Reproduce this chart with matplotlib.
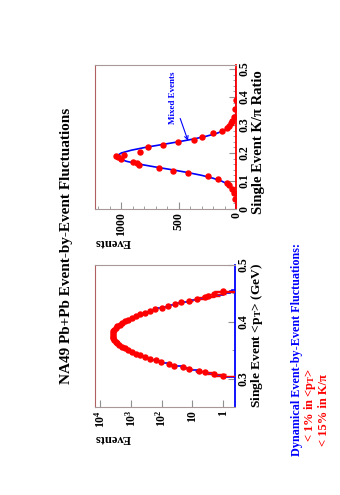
import numpy as np
import matplotlib
matplotlib.use('Agg')
import matplotlib.pyplot as plt
from matplotlib.ticker import FixedLocator, LogLocator, NullFormatter, MultipleLocator

# ---------------- data ----------------
pt_centers = [0.305, 0.308, 0.311, 0.314, 0.317, 0.320, 0.323, 0.326, 0.329, 0.332,
              0.335, 0.338, 0.341, 0.344, 0.347, 0.350, 0.353, 0.356, 0.359, 0.362,
              0.365, 0.368, 0.371, 0.374, 0.377, 0.380, 0.383, 0.386, 0.389, 0.392,
              0.395, 0.398, 0.401, 0.404, 0.407, 0.410, 0.413, 0.416, 0.419, 0.422,
              0.425, 0.428, 0.431, 0.434, 0.437, 0.440, 0.443, 0.446, 0.449, 0.452,
              0.455]
pt_events = [1, 2, 4, 6, 13, 21, 40, 60, 104, 155,
             245, 350, 510, 700, 955, 1245, 1600, 1975, 2390, 2790,
             3180, 3510, 3780, 3940, 4000, 3940, 3775, 3515, 3180, 2795,
             2385, 1980, 1595, 1250, 950, 705, 505, 355, 238, 160,
             100, 64, 37, 23, 13, 7, 4, 3, 2, 1,
             1]
pt_mixed = [1.0, 2.0, 3.8, 7.1, 12.8, 22.4, 38, 63, 101, 158,
            240, 353, 506, 704, 952, 1250, 1596, 1979, 2385, 2794,
            3179, 3515, 3777, 3943, 4000, 3943, 3777, 3515, 3179, 2794,
            2385, 1979, 1596, 1250, 952, 704, 506, 353, 240, 158,
            101, 63, 38, 22.4, 12.8, 7.1, 3.8, 2.0, 1.0, 0.6,
            0.5]

kpi_ratio = [0.035, 0.056, 0.070, 0.086, 0.094, 0.106, 0.117, 0.127, 0.136, 0.146,
             0.157, 0.165, 0.168, 0.177, 0.187, 0.189, 0.194, 0.205, 0.220, 0.228,
             0.238, 0.246, 0.258, 0.270, 0.279, 0.288, 0.297, 0.306, 0.315, 0.329,
             0.356, 0.389]
kpi_events = [5, 17, 38, 61, 81, 160, 247, 416, 547, 672,
              843, 866, 896, 1006, 1027, 1049, 974, 837, 765, 634,
              503, 364, 299, 203, 125, 81, 61, 44, 32, 17,
              9, 3]
kpi_mixed_ratio = [0.00, 0.01, 0.02, 0.03, 0.04, 0.05, 0.06, 0.07, 0.08, 0.09,
                   0.10, 0.11, 0.12, 0.13, 0.14, 0.15, 0.16, 0.17, 0.18, 0.19,
                   0.20, 0.21, 0.22, 0.23, 0.24, 0.25, 0.26, 0.27, 0.28, 0.29,
                   0.30, 0.31, 0.32, 0.33, 0.34, 0.35, 0.36, 0.37, 0.40, 0.45, 0.50]
kpi_mixed_events = [0.1, 0.2, 0.5, 1.2, 2.8, 6.0, 12.4, 24, 44, 77,
                    128, 201, 298, 419, 557, 704, 842, 953, 1022, 1039,
                    1000, 912, 790, 645, 501, 368, 257, 169, 105, 62,
                    35, 19, 9.4, 4.5, 2.0, 0.9, 0.3, 0.1, 0, 0, 0]

pt_ticks = [0.3, 0.4, 0.5]
pt_event_ticks = [1, 10, 100, 1000, 10000]
pt_event_ticklabels = ['1', '10', r'$\mathregular{10^{2}}$', r'$\mathregular{10^{3}}$',
                       r'$\mathregular{10^{4}}$']
kpi_ticks = [0, 0.1, 0.2, 0.3, 0.4, 0.5]
kpi_event_ticks = [0, 500, 1000]

title = 'NA49 Pb+Pb Event-by-Event Fluctuations'
summary = 'Dynamical Event-by-Event Fluctuations:'
result_pt = r'< 1% in <p$_{\mathregular{T}}$>'
result_kpi = '< 15% in K/\u03c0'

# ---------------- style ----------------
plt.rcParams['font.family'] = ['Liberation Serif', 'DejaVu Serif']
plt.rcParams['font.weight'] = 'bold'
plt.rcParams['mathtext.fontset'] = 'custom'
plt.rcParams['mathtext.rm'] = 'Liberation Serif:bold'
plt.rcParams['mathtext.it'] = 'Liberation Serif:italic:bold'
plt.rcParams['mathtext.bf'] = 'Liberation Serif:bold'

W, H = 340, 495
fig = plt.figure(figsize=(W / 100, H / 100), dpi=100)

def px_axes(x0, y0, x1, y1):
    return fig.add_axes([x0 / W, 1 - y1 / H, (x1 - x0) / W, (y1 - y0) / H])

frame_col = '#b06060'
edge_col = '#a89898'

def style(ax, right_col):
    ax.spines['left'].set_color(frame_col)
    ax.spines['top'].set_color(edge_col)
    ax.spines['bottom'].set_color(edge_col)
    ax.spines['right'].set_color(right_col)
    ax.spines['right'].set_linewidth(1.3)
    for s in ('left', 'top', 'bottom'):
        ax.spines[s].set_linewidth(0.8)
    ax.yaxis.tick_right()
    ax.tick_params(axis='both', which='both', direction='in', color='#909090',
                   labelsize=8.5, labelcolor='black')
    ax.tick_params(axis='both', which='major', length=5)
    ax.tick_params(axis='both', which='minor', length=2.5)
    ax.tick_params(axis='x', labelrotation=90, pad=2)
    ax.tick_params(axis='y', labelrotation=90, pad=2)
    for lab in ax.get_yticklabels():
        lab.set_va('center')

# ---------------- <pT> panel ----------------
ax1 = px_axes(95, 265, 235, 407)
pc = np.array(pt_centers)
half = np.diff(pc).mean() / 2
edges = np.concatenate([[pc[0] - half], (pc[1:] + pc[:-1]) / 2, [pc[-1] + half]])
ax1.stairs(pt_mixed, edges, orientation='horizontal', baseline=0.1,
           color='blue', lw=1.2, zorder=2)
ev = np.array(pt_events, dtype=float)
err_hi = np.sqrt(ev)
err_lo = np.minimum(np.sqrt(ev), 0.6 * ev)
ax1.errorbar(ev, pc, xerr=[err_lo, err_hi], yerr=half, fmt='o', color='red',
             ms=3.6, mec='red', elinewidth=1.0, capsize=0, zorder=3)
ax1.set_xscale('log')
ax1.set_xlim(1.5e4, 0.41)
ax1.set_ylim(0.25, 0.5)
ax1.xaxis.set_major_locator(FixedLocator(pt_event_ticks))
ax1.set_xticklabels(pt_event_ticklabels)
ax1.xaxis.set_minor_locator(LogLocator(base=10, subs=np.arange(2, 10)))
ax1.xaxis.set_minor_formatter(NullFormatter())
ax1.yaxis.set_major_locator(FixedLocator(pt_ticks))
ax1.yaxis.set_minor_locator(MultipleLocator(0.05))
style(ax1, 'blue')
ax1.text(1.16, 1.02, r'Single Event <p$_{\mathregular{T}}$> (GeV)', transform=ax1.transAxes,
         rotation=90, ha='center', va='top', fontsize=9.7)
ax1.text(0.0, -0.22, 'Events', transform=ax1.transAxes, rotation=180,
         ha='left', va='center', fontsize=9)

# ---------------- K/pi panel ----------------
ax2 = px_axes(95, 65, 236, 209)
ax2.plot(kpi_mixed_events, kpi_mixed_ratio, color='blue', lw=1.2, zorder=2)
ax2.plot(kpi_events, kpi_ratio, 'o', color='red', ms=3.6, zorder=3)
ax2.set_xlim(1230, 0)
ax2.set_ylim(0, 0.514)
ax2.xaxis.set_major_locator(FixedLocator(kpi_event_ticks))
ax2.xaxis.set_minor_locator(MultipleLocator(100))
ax2.yaxis.set_major_locator(FixedLocator(kpi_ticks))
ax2.set_yticklabels(['0', '0.1', '0.2', '0.3', '0.4', '0.5'])
ax2.yaxis.set_minor_locator(MultipleLocator(0.02))
style(ax2, 'red')
ax2.text(1.16, 0.965, 'Single Event K/\u03c0 Ratio', transform=ax2.transAxes,
         rotation=90, ha='center', va='top', fontsize=10.5)
ax2.text(0.0, -0.23, 'Events', transform=ax2.transAxes, rotation=180,
         ha='left', va='center', fontsize=9)
ax2.annotate('Mixed Events', xy=(419, 0.244), xytext=(550, 0.397), textcoords='data',
             rotation=90, ha='center', va='center', color='blue', fontsize=6.5,
             arrowprops=dict(arrowstyle='->', color='blue', lw=0.8,
                             shrinkA=1, shrinkB=0))

# ---------------- page texts ----------------
fig.text(67 / W, 1 - 246 / H, title, rotation=90, ha='center', va='center',
         fontsize=11)
fig.text(297 / W, 1 - 456 / H, summary, rotation=90, ha='center', va='bottom',
         fontsize=8.7, color='blue')
fig.text(310 / W, 1 - 442 / H, result_pt, rotation=90, ha='center', va='bottom',
         fontsize=9, color='red')
fig.text(324 / W, 1 - 446 / H, result_kpi, rotation=90, ha='center', va='bottom',
         fontsize=9, color='red')

fig.savefig('out.png', dpi=100)
